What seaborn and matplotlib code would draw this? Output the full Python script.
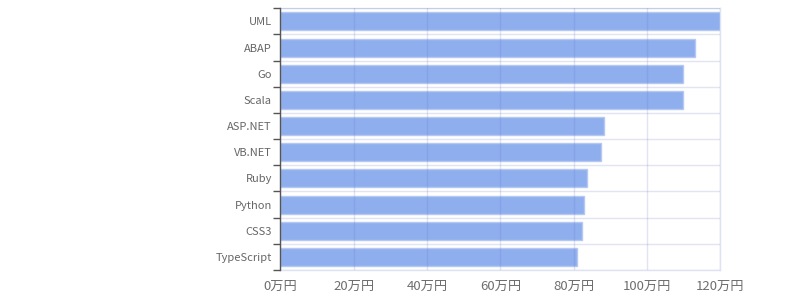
import matplotlib
matplotlib.use("Agg")
import matplotlib.pyplot as plt
import seaborn as sns
import pandas as pd
import numpy as np
from matplotlib.ticker import FixedLocator

categories = ["UML", "ABAP", "Go", "Scala", "ASP.NET", "VB.NET", "Ruby", "Python", "CSS3", "TypeScript"]
values = [120.0, 113.2, 109.9, 109.9, 88.2, 87.4, 83.7, 82.7, 82.4, 80.9]
x_ticks = [0, 20, 40, 60, 80, 100, 120]
x_tick_labels = ["0万円", "20万円", "40万円", "60万円", "80万円", "100万円", "120万円"]

df = pd.DataFrame({"lang": categories, "salary": values})

sns.set_theme(style="white")
plt.rcParams["font.family"] = ["Noto Sans CJK JP", "DejaVu Sans"]

fig = plt.figure(figsize=(8, 3), dpi=100)
ax = fig.add_axes([0.3504, 0.1, 0.55, 0.8723])

fill = "#8FAEEE"
edge = "#B4C8F3"
sns.barplot(data=df, x="salary", y="lang", orient="h", order=categories,
            color=fill, saturation=1, width=0.69, edgecolor=edge,
            linewidth=1.0, ax=ax, zorder=1)
for p in ax.patches:
    p.set_facecolor(fill)

ax.set_xlim(0, 120)
ax.set_ylim(len(categories) - 0.5, -0.5)
ax.set_xlabel("")
ax.set_ylabel("")

ax.set_xticks(x_ticks)
ax.set_xticklabels(x_tick_labels, fontsize=9.5, color="#6e6e6e")
ax.yaxis.set_minor_locator(FixedLocator(np.arange(-0.5, len(categories), 1.0)))
ax.tick_params(axis="y", which="major", left=False, length=0, labelsize=8, labelcolor="#666666", pad=6)
ax.tick_params(axis="y", which="minor", left=True, length=5, width=1, color="#555555", direction="out")
ax.tick_params(axis="x", which="major", bottom=False, length=0, pad=7)

ax.set_axisbelow(False)
grid_c = (0.40, 0.48, 0.78)
ax.grid(True, axis="x", which="major", color=grid_c, alpha=0.2, linewidth=1, zorder=3)
ax.grid(True, axis="y", which="minor", color=grid_c, alpha=0.2, linewidth=1, zorder=3)
ax.grid(False, axis="y", which="major")

for s in ["top", "right", "bottom"]:
    ax.spines[s].set_color("#dde3f0")
    ax.spines[s].set_linewidth(1)
ax.spines["left"].set_color("#555555")
ax.spines["left"].set_linewidth(1)
ax.spines["left"].set_zorder(4)

fig.savefig("out.png", dpi=100)
